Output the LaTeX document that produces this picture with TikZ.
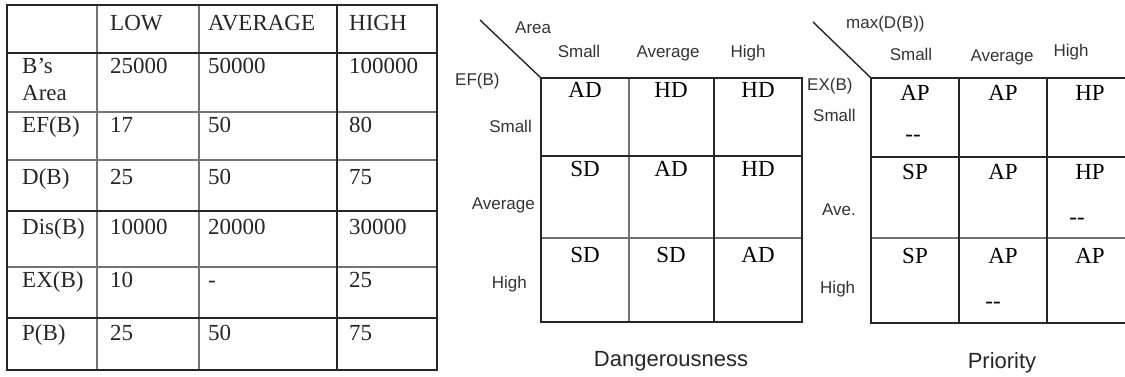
\documentclass[tikz,border=0pt]{standalone}
\usepackage{fontspec}
\setmainfont{Liberation Serif}
\newfontfamily\sansf{Liberation Sans}
\begin{document}
\begin{tikzpicture}[x=1pt,y=-1pt,
  tab/.style={font=\fontsize{23}{27}\selectfont, inner sep=0pt, anchor=base west, text=black!85},
  cell/.style={font=\fontsize{23}{27}\selectfont, inner sep=0pt, anchor=base},
  lab/.style={font=\sansf\fontsize{17}{20}\selectfont, text=black!80, inner sep=0pt},
  capt/.style={font=\sansf\fontsize{22}{26}\selectfont, text=black!85, inner sep=0pt, anchor=base},
  dark/.style={line width=1.8pt, draw=black!85},
  lite/.style={line width=1.1pt, draw=black!55},
  diag/.style={line width=1.4pt, draw=black!85},
]
\useasboundingbox (0,0) rectangle (1125,377);

% ---------------- left table ----------------
\draw[lite] (97,5) -- (97,370);
\draw[lite] (199,5) -- (199,370);
\draw[lite] (7,112) -- (437,112);
\draw[lite] (7,160) -- (437,160);
\draw[lite] (7,267) -- (437,267);
\draw[dark] (7,53) -- (437,53);
\draw[dark] (7,211) -- (437,211);
\draw[dark] (7,318) -- (437,318);
\draw[dark] (337,5) -- (337,370);
\draw[dark] (7,5) rectangle (437,370);

\node[tab] (hlow) at (110,31) {LOW};
\node[tab] (havg) at (208,31) {AVERAGE};
\node[tab] (hhigh) at (349,31) {HIGH};

\node[tab] (r1a) at (22,74) {B’s};
\node[tab] (r1b) at (22,101) {Area};
\node[tab] (r1l) at (110,74) {25000};
\node[tab] (r1m) at (208,74) {50000};
\node[tab] (r1h) at (349,74) {100000};

\node[tab] (r2) at (22,133) {EF(B)};
\node[tab] (r2l) at (110,133) {17};
\node[tab] (r2m) at (208,133) {50};
\node[tab] (r2h) at (349,133) {80};

\node[tab] (r3) at (22,185) {D(B)};
\node[tab] (r3l) at (110,185) {25};
\node[tab] (r3m) at (208,185) {50};
\node[tab] (r3h) at (349,185) {75};

\node[tab] (r4) at (22,234) {Dis(B)};
\node[tab] (r4l) at (110,234) {10000};
\node[tab] (r4m) at (208,234) {20000};
\node[tab] (r4h) at (349,234) {30000};

\node[tab] (r5) at (22,287) {EX(B)};
\node[tab] (r5l) at (110,287) {10};
\node[tab] (r5m) at (208,287) {-};
\node[tab] (r5h) at (349,287) {25};

\node[tab] (r6) at (22,340) {P(B)};
\node[tab] (r6l) at (110,340) {25};
\node[tab] (r6m) at (208,340) {50};
\node[tab] (r6h) at (349,340) {75};

% ---------------- Dangerousness grid ----------------
\coordinate (dcorner) at (541,78);
\coordinate (dstart) at (480,20);
\draw[diag] (dstart) -- (dcorner);
\draw[lite] (629,78) -- (629,322);
\draw[lite] (541,238) -- (802,238);
\draw[dark] (714,78) -- (714,322);
\draw[dark] (541,156) -- (802,156);
\draw[dark] (541,78) rectangle (802,322);

\node[lab, anchor=base west] (darea) at (515,34) {Area};
\node[lab, anchor=base] (dcs) at (579,58) {Small};
\node[lab, anchor=base] (dca) at (668,58) {Average};
\node[lab, anchor=base] (dch) at (748,58) {High};
\node[lab, anchor=base west] (def) at (455,86) {EF(B)};
\node[lab, anchor=base east] (drs) at (532,133) {Small};
\node[lab, anchor=base east] (dra) at (535,210) {Average};
\node[lab, anchor=base east] (drh) at (527,288) {High};

\node[cell] (d11) at (585,98) {AD};
\node[cell] (d12) at (671,98) {HD};
\node[cell] (d13) at (758,98) {HD};
\node[cell] (d21) at (585,177) {SD};
\node[cell] (d22) at (671,177) {AD};
\node[cell] (d23) at (758,177) {HD};
\node[cell] (d31) at (585,262) {SD};
\node[cell] (d32) at (671,262) {SD};
\node[cell] (d33) at (758,262) {AD};

\node[capt] (dcap) at (671,366) {Dangerousness};

% ---------------- Priority grid ----------------
\coordinate (pcorner) at (871,78);
\coordinate (pstart) at (813,22);
\draw[diag] (pstart) -- (pcorner);
\draw[lite] (871,238) -- (1135,238);
\draw[dark] (959,78) -- (959,323);
\draw[dark] (1047,78) -- (1047,323);
\draw[dark] (871,157) -- (1135,157);
\draw[dark] (1135,78) -- (871,78) -- (871,323) -- (1135,323);

\node[lab, anchor=base west] (pmax) at (846,29) {max(D(B))};
\node[lab, anchor=base] (pcs) at (911,61) {Small};
\node[lab, anchor=base] (pca) at (1002,62) {Average};
\node[lab, anchor=base] (pch) at (1071,57) {High};
\node[lab, anchor=base west] (pex) at (807,91) {EX(B)};
\node[lab, anchor=base west] (prs) at (813,122) {Small};
\node[lab, anchor=base west] (pra) at (822,215) {Ave.};
\node[lab, anchor=base west] (prh) at (820,293) {High};

\node[cell] (p11) at (915,101) {AP};
\node[cell] (p12) at (1003,101) {AP};
\node[cell] (p13) at (1090,101) {HP};
\node[cell] (p21) at (915,179) {SP};
\node[cell] (p22) at (1003,179) {AP};
\node[cell] (p23) at (1090,179) {HP};
\node[cell] (p31) at (915,263) {SP};
\node[cell] (p32) at (1003,263) {AP};
\node[cell] (p33) at (1090,263) {AP};

\node[cell] (p11d) at (913,142) {{-}{-}};
\node[cell] (p23d) at (1077,224) {{-}{-}};
\node[cell] (p32d) at (993,308) {{-}{-}};

\node[capt] (pcap) at (1002,368) {Priority};
\end{tikzpicture}
\end{document}
